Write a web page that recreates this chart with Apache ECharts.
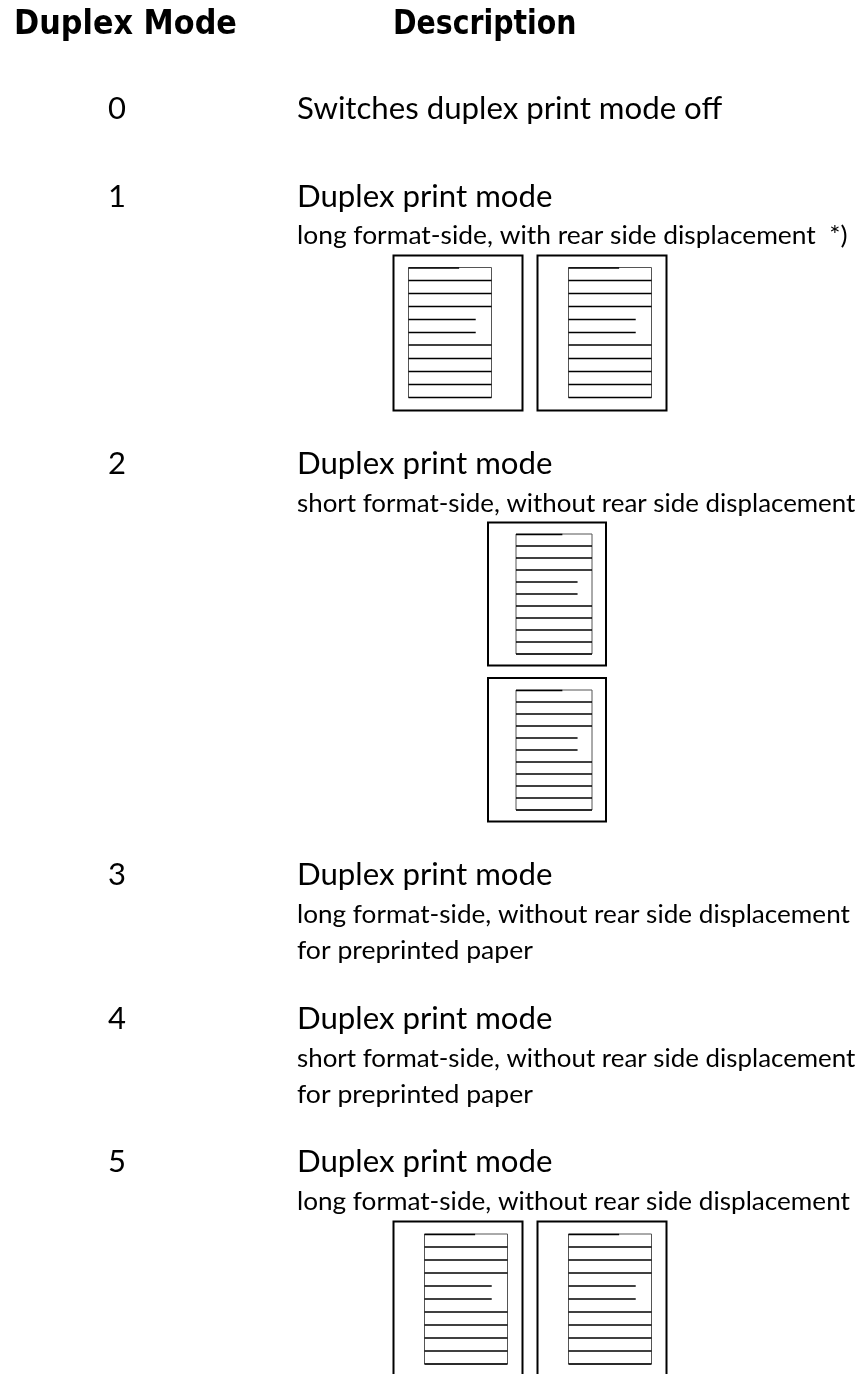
<!DOCTYPE html>
<html>
<head>
<meta charset="utf-8">
<title>Duplex Mode</title>
<script src="https://cdn.jsdelivr.net/npm/echarts@6/dist/echarts.min.js"></script>
<style>
	html,body{margin:0;padding:0;background:#fff;}
</style>
</head>
<body>
<div id="main" style="width:860px;height:1374px;"></div>
<script>
// picture is read in page pixels, x and y axes run 0-860 and 0-1374
// the number in each text row is the baseline y
var headers=[["Duplex Mode",37],["Description",37]];
var headerX=[14,393];
var headerStretch=[0.925,0.865];
var modes=[["0",120],["1",207.7],["2",475],["3",885.7],["4",1029.3],["5",1173]];
var bigLines=[
	["Switches duplex print mode off",120],
	["Duplex print mode",207.7],
	["Duplex print mode",475],
	["Duplex print mode",885.7],
	["Duplex print mode",1029.3],
	["Duplex print mode",1173]
];
var smallLines=[
	["long format-side, with rear side displacement  *)",244.3],
	["short format-side, without rear side displacement",512.7],
	["long format-side, without rear side displacement",923],
	["for preprinted paper",959.3],
	["short format-side, without rear side displacement",1067.3],
	["for preprinted paper",1103],
	["long format-side, without rear side displacement",1210]
];
var smallStretch=[1.022,1.004,1.013,1.03,1.004,1.03,1.013];
// outer frames: x0,y0,x1,y1
var frames=[
	[393.5,255.5,522.5,410.5],
	[537.5,255.5,666.5,410.5],
	[488,522.5,606,665.5],
	[488,678,606,821.5],
	[393.5,1221.5,522.5,1390],
	[537.5,1221.5,666.5,1390]
];
// sheet in each frame: x0,x1
var sheets=[
	[408.5,491.5],
	[568.5,651.5],
	[516,592],
	[516,592],
	[424.5,507.5],
	[568.5,651.5]
];
// y of the text rules in each sheet, top to bottom
var rules=[
	[267.5,280.5,293.5,306.5,319.5,332.5,345,358.5,371.5,384.5,397.5],
	[267.5,280.5,293.5,306.5,319.5,332.5,345,358.5,371.5,384.5,397.5],
	[534,546,558,570,582,594,606,618,630,642,654],
	[690,702,714,726,738,750,762,774,786,798,810],
	[1234,1247,1260,1273,1286,1299,1312,1325,1338,1351,1364],
	[1234,1247,1260,1273,1286,1299,1312,1325,1338,1351,1364]
];
var ruleLengths=[0.61,1,1,1,0.81,0.81,1,1,1,1,1];

var myChart=echarts.init(document.getElementById("main"));

function textSeries(list,font,size,xOf,stretch){
	return {
		type:"custom",
		coordinateSystem:"cartesian2d",
		silent:true,
		data:list,
		renderItem:function(params,api){
			var row=list[params.dataIndex];
			var p=api.coord([xOf(params.dataIndex),row[1]]);
			return {
				type:"text",
				x:p[0],
				y:p[1]-size*0.34,
				scaleX:stretch?stretch[params.dataIndex]:1,
				style:{
					text:row[0],
					fill:"#000",
					font:font.replace("SIZE",size+"px"),
					textAlign:"left",
					textVerticalAlign:"middle"
				}
			};
		}
	};
}

var option={
	animation:false,
	grid:{left:0,right:0,top:0,bottom:0},
	xAxis:{type:"value",min:0,max:860,show:false},
	yAxis:{type:"value",min:0,max:1374,inverse:true,show:false},
	series:[
		{
			type:"custom",
			coordinateSystem:"cartesian2d",
			silent:true,
			clip:true,
			data:frames,
			renderItem:function(params,api){
				var f=frames[params.dataIndex];
				var a=api.coord([f[0],f[1]]);
				var b=api.coord([f[2],f[3]]);
				var s=sheets[params.dataIndex];
				var ys=rules[params.dataIndex];
				var l=api.coord([s[0],ys[0]]);
				var r=api.coord([s[1],ys[ys.length-1]]);
				var kids=[
					{type:"rect",shape:{x:a[0],y:a[1],width:b[0]-a[0],height:b[1]-a[1]},style:{fill:"#fff",stroke:"#000",lineWidth:2}},
					{type:"rect",shape:{x:l[0],y:l[1],width:r[0]-l[0],height:r[1]-l[1]},style:{fill:"#fff",stroke:"#555",lineWidth:1}}
				];
				for(var i=0;i<ys.length;i++){
					var off=i==0?0.5:0;
					var p0=api.coord([s[0],ys[i]]);
					var p1=api.coord([s[0]+(s[1]-s[0])*ruleLengths[i],ys[i]]);
					kids.push({type:"line",shape:{x1:p0[0],y1:p0[1]+off,x2:p1[0],y2:p1[1]+off},style:{stroke:"#000",lineWidth:1.6}});
				}
				return {type:"group",children:kids};
			}
		},
		textSeries(headers,"bold SIZE 'DejaVu Sans'",32.8,function(i){return headerX[i];},headerStretch),
		textSeries(modes,"400 SIZE Lato",31,function(i){return 108;}),
		textSeries(bigLines,"400 SIZE Lato",31.2,function(i){return 297;}),
		textSeries(smallLines,"400 SIZE Lato",25.8,function(i){return 297;},smallStretch)
	]
};
myChart.setOption(option);
</script>
</body>
</html>
